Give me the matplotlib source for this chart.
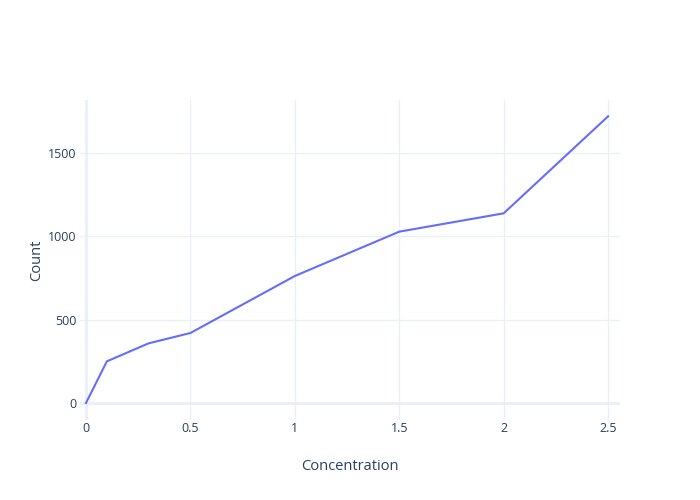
import matplotlib.pyplot as plt

# data
concentration = [0, 0.1, 0.3, 0.5, 1, 1.5, 2, 2.5]
count = [0, 250, 358, 420, 762, 1028, 1138, 1720]

x_ticks = [0, 0.5, 1, 1.5, 2, 2.5]
x_ticklabels = ["0", "0.5", "1", "1.5", "2", "2.5"]
y_ticks = [0, 500, 1000, 1500]
y_ticklabels = ["0", "500", "1000", "1500"]

text_color = "#2a3f5f"
grid_color = "#EBF0F8"
line_color = "#636efa"

plt.rcParams["font.family"] = ["Open Sans", "DejaVu Sans"]

fig = plt.figure(figsize=(7, 5), dpi=100)
ax = fig.add_axes([80 / 700, 80 / 500, 540 / 700, 320 / 500])

ax.plot(concentration, count, color=line_color, linewidth=1.5, zorder=3)

ax.set_xlim(-0.0287, 2.557)
ax.set_ylim(-102, 1818)

ax.set_xticks(x_ticks)
ax.set_xticklabels(x_ticklabels)
ax.set_yticks(y_ticks)
ax.set_yticklabels(y_ticklabels)

ax.grid(True, color=grid_color, linewidth=1, zorder=0)
# zero lines a bit heavier, like plotly
ax.axhline(0, color=grid_color, linewidth=2, zorder=1)
ax.axvline(0, color=grid_color, linewidth=2, zorder=1)

for s in ax.spines.values():
    s.set_visible(False)

ax.tick_params(axis="both", length=0, labelsize=9, labelcolor=text_color)
ax.tick_params(axis="x", pad=1.5)
ax.tick_params(axis="y", pad=2.5)

ax.set_xlabel("Concentration", fontsize=10.5, color=text_color, va="center")
ax.set_ylabel("Count", fontsize=10.5, color=text_color, va="center")
ax.xaxis.set_label_coords(0.5, (420 - 467) / 320)
ax.yaxis.set_label_coords((37 - 80) / 540, 0.5)

fig.savefig("out.png", dpi=100)
